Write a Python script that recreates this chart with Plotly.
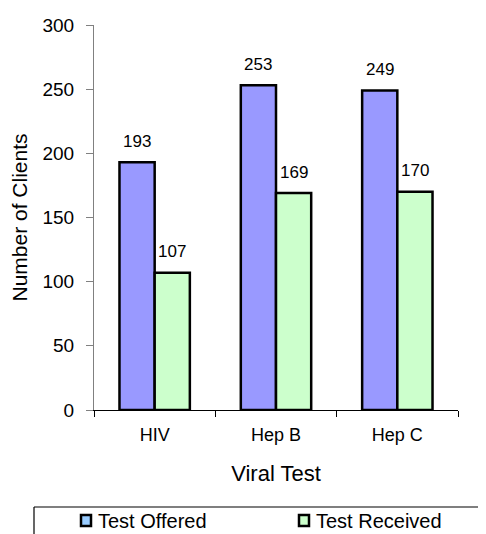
import plotly.graph_objects as go

categories = ["HIV", "Hep B", "Hep C"]
offered = [193, 253, 249]
received = [107, 169, 170]
series_names = ["Test Offered", "Test Received"]
y_ticks = [0, 50, 100, 150, 200, 250, 300]

bar_colors = ["#9999FF", "#CCFFCC"]
legend_colors = ["#99CCFF", "#CCFFCC"]
FONT = "Liberation Sans, Arial, sans-serif"

# page body has an 8px margin, so the figure is offset by 8px
OFF = 8
W, H = 486 - OFF, 534 - OFF
ml, mr, mt, mb = 94 - OFF, 28, 25 - OFF, 124
pw = W - ml - mr
ph = H - mt - mb

fig = go.Figure()
for name, vals, col in zip(series_names, [offered, received], bar_colors):
    fig.add_trace(go.Bar(
        x=categories, y=vals, name=name,
        marker=dict(color=col, line=dict(color="black", width=2.5)),
        showlegend=False,
    ))

# data labels
cat_px = pw / len(categories)
bargap = 0.42
bar_px = cat_px * (1 - bargap) / 2
for i, vals in enumerate([offered, received]):
    shift = (i - 0.5) * bar_px
    for c, v in zip(categories, vals):
        fig.add_annotation(x=c, y=v, text=str(v), showarrow=False,
                           xshift=shift, yshift=21, yanchor="middle",
                           font=dict(family=FONT, size=17, color="black"))

# legend (drawn manually to match box style); p = window pixel coords
def px2x(p):
    return (p - OFF - ml) / pw

def py2y(p):
    return (H - mb - (p - OFF)) / ph

fig.add_shape(type="line", xref="paper", yref="paper",
              x0=px2x(34), x1=px2x(495), y0=py2y(507), y1=py2y(507),
              line=dict(color="black", width=1.2))
fig.add_shape(type="line", xref="paper", yref="paper",
              x0=px2x(34), x1=px2x(34), y0=py2y(507), y1=py2y(545),
              line=dict(color="black", width=1.2))
legend_x = [80, 298]
for name, col, lx in zip(series_names, legend_colors, legend_x):
    fig.add_shape(type="rect", xref="paper", yref="paper",
                  x0=px2x(lx + 1), x1=px2x(lx + 11), y0=py2y(515), y1=py2y(526),
                  fillcolor=col, line=dict(color="black", width=2.5))
    fig.add_annotation(xref="paper", yref="paper", x=px2x(lx + 16), y=py2y(521),
                       text=name, showarrow=False, xanchor="left", yanchor="middle",
                       font=dict(family=FONT, size=20, color="black"))

fig.update_layout(
    width=W, height=H,
    margin=dict(l=ml, r=mr, t=mt, b=mb, pad=0, autoexpand=False),
    paper_bgcolor="white", plot_bgcolor="white",
    barmode="group", bargap=bargap, bargroupgap=0,
    font=dict(family=FONT, size=18, color="black"),
    showlegend=False,
    xaxis=dict(
        automargin=False,
        showline=True, linecolor="black", linewidth=1.2,
        ticks="outside", ticklen=6, tickcolor="black", tickson="boundaries",
        tickfont=dict(size=18), ticklabelstandoff=8,
        title=dict(text="Viral Test", font=dict(size=22), standoff=21),
        showgrid=False, zeroline=False,
    ),
    yaxis=dict(
        automargin=False,
        range=[0, 300], tickvals=y_ticks,
        showline=True, linecolor="#808080", linewidth=1.2,
        ticks="outside", ticklen=7, tickcolor="#808080",
        tickfont=dict(size=19), ticklabelstandoff=8,
        title=dict(text="Number of Clients", font=dict(size=21), standoff=12),
        showgrid=False, zeroline=False,
    ),
)

fig.write_html("out.html")
